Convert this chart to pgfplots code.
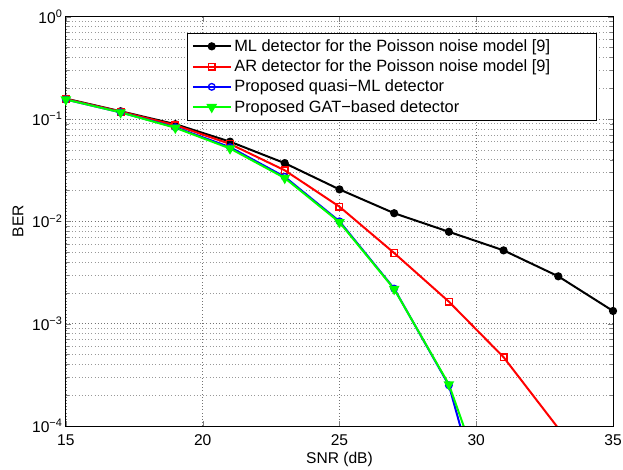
\documentclass[border=0pt]{standalone}
\usepackage{pgfplots}
\pgfplotsset{compat=1.18}
\usepackage{fontspec}
\setmainfont{Liberation Sans}

\begin{document}
\begin{tikzpicture}
\begin{axis}[
    scale only axis,
    width=411pt, height=307.5pt,
    ymode=log,
    xmin=15, xmax=35,
    ymin=1e-4, ymax=1,
    xtick={15,20,25,30,35},
    ytick={1e-4,1e-3,1e-2,1e-1,1},
    yticklabels={10\textsuperscript{−4},10\textsuperscript{−3},10\textsuperscript{−2},10\textsuperscript{−1},10\textsuperscript{0}},
    /pgf/number format/assume math mode=true,
    tick label style={font=\fontsize{11.7}{13}\selectfont},
    label style={font=\fontsize{11.7}{13}\selectfont},
    xlabel={SNR (dB)},
    ylabel={BER},
    xlabel style={at={(axis description cs:0.5,-0.0813)}, anchor=center},
    ylabel style={at={(axis description cs:-0.0876,0.5)}, anchor=center},
    yticklabel style={xshift=1pt},
    xticklabel style={yshift=-3pt},
    tick align=inside,
    major tick length=4pt,
    minor tick length=2.5pt,
    grid=both,
    major grid style={dotted, black!55},
    minor grid style={dotted, black!40},
    minor x tick num=0,
    axis line style={line width=0.6pt},
    legend style={
        at={(0.971,0.96)}, anchor=north east,
        font=\fontsize{12.3}{13.5}\selectfont,
        draw=black, line width=0.6pt,
        row sep=0.8pt, inner xsep=3pt, inner ysep=2.5pt,
        legend cell align=left,
    },
    legend image code/.code={
        \draw[mark repeat=2, mark phase=2]
        plot coordinates {(0cm,0cm) (0.5cm,0cm) (1cm,0cm)};
    },
    every axis plot/.append style={line width=1.5pt},
]
\addplot[black, mark=*, mark size=2.3pt] coordinates {
(15,0.158) (17,0.119) (19,0.089) (21,0.060) (23,0.037) (25,0.0205)
(27,0.0120) (29,0.0079) (31,0.0052) (33,0.0029) (35,0.00133)};
\addlegendentry{ML detector for the Poisson noise model [9]\hspace*{30pt}}

\addplot[red, mark=square, mark size=2.5pt, mark options={line width=1pt}] coordinates {
(15,0.157) (17,0.118) (19,0.087) (21,0.057) (23,0.0315) (25,0.0139)
(27,0.0049) (29,0.00164) (31,0.00047) (33,0.000095)};
\addlegendentry{AR detector for the Poisson noise model [9]}

\addplot[blue, mark=o, mark size=2.5pt, mark options={line width=1pt}] coordinates {
(15,0.155) (17,0.116) (19,0.083) (21,0.053) (23,0.0272) (25,0.0100)
(27,0.00220) (29,0.000250) (31,0.000003)};
\addlegendentry{Proposed quasi−ML detector}

\addplot[green, mark=triangle*, mark size=3.2pt, mark options={rotate=180, fill=green}] coordinates {
(15,0.155) (17,0.116) (19,0.082) (21,0.0515) (23,0.0265) (25,0.0098)
(27,0.00218) (29,0.000255) (31,0.0000079)};
\addlegendentry{Proposed GAT−based detector}
\end{axis}
\pgfresetboundingbox
\path[use as bounding box] ([shift={(-49.5pt,-32.5pt)}]current axis.south west)
    rectangle ([shift={(7.5pt,12.5pt)}]current axis.north east);
\end{tikzpicture}
\end{document}
